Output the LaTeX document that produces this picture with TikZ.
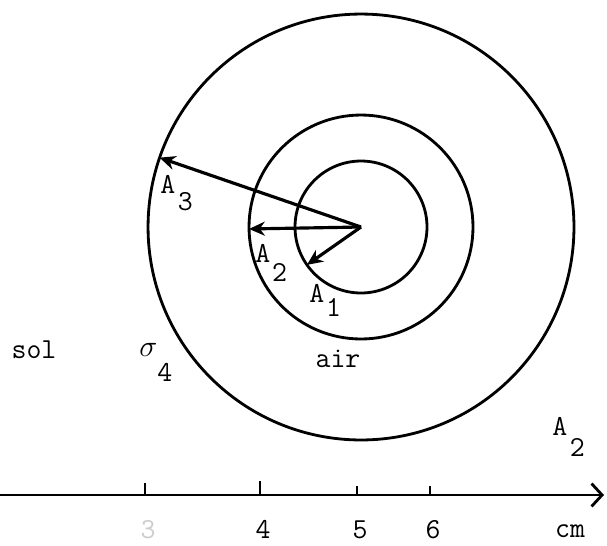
\documentclass[tikz,border=0pt]{standalone}
\usetikzlibrary{arrows.meta,positioning}
\tikzset{
  ring/.style={circle, draw, line width=1.6pt, inner sep=0pt, outer sep=0pt},
  vecarrow/.style={line width=1.8pt, -{Stealth[length=9pt,width=8pt]}},
  axisline/.style={line width=1.6pt, -{Straight Barb[length=6pt,width=13pt,line width=1.6pt]}},
  tickmark/.style={line width=1.6pt},
  lbl/.style={inner sep=0pt, font=\fontsize{16.5}{19}\ttfamily},
}
\begin{document}
\begin{tikzpicture}[x=0.02cm, y=-0.02cm]
\useasboundingbox (0,0) rectangle (607,545);
\coordinate (O) at (361,227);
% the three circles
\node[ring, minimum size=2.64cm] (inner) at (O) {};
\node[ring, minimum size=4.48cm] (middle) at (O) {};
\node[ring, minimum size=8.52cm] (outer) at (O) {};
% radii
\draw[vecarrow] (O) -- (inner.215.6);
\draw[vecarrow] (O) -- (middle.181);
\draw[vecarrow] (O) -- (outer.161);
% labels
\node[lbl, anchor=base west] (a3) at (160,193) {A\kern1.5pt\raisebox{-10pt}{3}};
\node[lbl, anchor=base west] (a2) at (255,262) {A\kern1pt\raisebox{-11pt}{2}};
\node[lbl, anchor=base west] (a1) at (309,302) {A\kern1pt\raisebox{-8pt}{1}};
\node[lbl, anchor=base west] (a2out) at (552,435) {A\kern1.5pt\raisebox{-12pt}{2}};
\node[lbl, anchor=base] (sol) at (34,358) {sol};
\node[lbl, anchor=base west] (sigma) at (139,356) {$\sigma$\kern0pt\raisebox{-14.5pt}{4}};
\node[lbl, anchor=base] (air) at (338,367) {air};
% axis
\coordinate (axstart) at (0,495);
\coordinate (axend) at (604,495);
\draw[axisline] (axstart) -- (axend);
\foreach \x/\n/\h/\c in {145/3/12/black!20, 260/4/14/black, 357/5/9/black, 430/6/9/black}{
  \draw[tickmark] (\x,495) -- ++(0,-\h);
  \node[lbl, anchor=base, text=\c] (tick\n) at (\x+3,538) {\n};
}
\node[lbl, anchor=base] (unit) at (570,537) {cm};
\end{tikzpicture}
\end{document}
